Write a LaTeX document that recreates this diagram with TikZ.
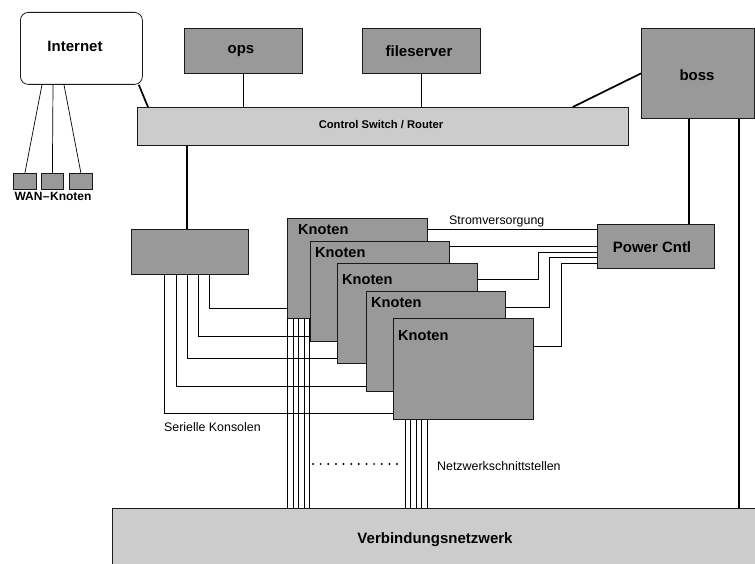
\documentclass[tikz,border=0pt]{standalone}
\usepackage{fontspec}
\setmainfont{Liberation Sans}
\usetikzlibrary{calc}
\definecolor{boxgray}{HTML}{999999}
\definecolor{lightgray}{HTML}{CCCCCC}
\definecolor{edge}{HTML}{1A1A1A}
\begin{document}
\begin{tikzpicture}[x=1pt,y=-1pt,
  gbox/.style={draw=edge,line width=0.8pt,fill=boxgray,inner sep=0pt,anchor=north west},
  lbox/.style={draw=edge,line width=0.8pt,fill=lightgray,inner sep=0pt,anchor=north west},
  wbox/.style={draw=edge,line width=0.8pt,fill=white,rounded corners=8pt,inner sep=0pt,anchor=north west},
  big/.style={font=\fontsize{15}{17}\selectfont\bfseries,inner sep=0pt},
  knot/.style={font=\fontsize{14.6}{17}\selectfont\bfseries,inner sep=0pt,anchor=west},
  mid/.style={font=\fontsize{11.2}{13}\selectfont\bfseries,inner sep=0pt},
  txt/.style={font=\fontsize{12.4}{14}\selectfont,inner sep=0pt},
  wire/.style={line width=0.7pt,draw=black},
  trunk/.style={line width=1.7pt,draw=black}]
\clip (0,0) rectangle (755,564);
\fill[white] (0,0) rectangle (755,564);

% upper level: internet, servers, switch
\node[wbox,minimum width=122pt,minimum height=72pt] (inet) at (20,12) {};
\node[big] (inettext) at (75,46) {Internet};
\node[gbox,minimum width=23pt,minimum height=16pt] (w1) at (13,173) {};
\node[gbox,minimum width=22pt,minimum height=16pt] (w2) at (41,173) {};
\node[gbox,minimum width=23pt,minimum height=16pt] (w3) at (69,173) {};
\node[mid,font=\fontsize{12}{14}\selectfont\bfseries] (wantext) at (53,196) {WAN\kern0.5pt–\kern0.5pt Knoten};

\node[gbox,minimum width=118pt,minimum height=45pt] (ops) at (184,28) {};
\node[big] (opstext) at (241,51) {ops};
\node[gbox,minimum width=118pt,minimum height=45pt] (fs) at (362,28) {};
\node[big] (fstext) at (419,51) {fileserver};
\node[gbox,minimum width=113pt,minimum height=90pt] (boss) at (641,28) {};
\node[big] (bosstext) at (697,75) {boss};
\node[lbox,minimum width=491pt,minimum height=38pt] (sw) at (137,107) {};
\node[mid] (swtext) at (381,125) {Control Switch / Router};

% console server and power controller
\node[gbox,minimum width=117pt,minimum height=45pt] (cb) at (131,229) {};
\node[gbox,minimum width=117pt,minimum height=44pt] (pc) at (597,224) {};
\node[big] (pctext) at (652,247) {Power Cntl};

% interconnect
\node[lbox,minimum width=660pt,minimum height=70pt] (vn) at (112,508) {};
\node[big] (vntext) at (435,540) {Verbindungsnetzwerk};

% internet links
\draw[wire] ([xshift=22pt]inet.south west) -- (w1.north);
\draw[wire] ([xshift=33pt]inet.south west) -- (w2.north);
\draw[wire] ([xshift=44pt]inet.south west) -- (w3.north);
\draw[trunk] ([xshift=-4pt]inet.south east) -- ([xshift=11pt]sw.north west);
\draw[trunk] (ops.south) -- (ops.south |- sw.north);
\draw[trunk] (fs.south) -- (fs.south |- sw.north);
\draw[trunk] ([xshift=-56pt]sw.north east) -- (boss.west);
\coordinate (cbtop) at ([xshift=56pt]cb.north west);
\draw[trunk] (cbtop |- sw.south) -- (cbtop);
\coordinate (bossa) at ([xshift=48pt]boss.south west);
\coordinate (bossb) at ([xshift=98pt]boss.south west);
\draw[trunk] (bossa) -- (bossa |- pc.north);
\draw[trunk] (bossb) -- (bossb |- vn.north);

% node stack
\node[gbox,minimum width=140pt,minimum height=100pt] (k1) at (287,218) {};
\node[knot] (k1text) at (298,230) {Knoten};
\node[gbox,minimum width=139pt,minimum height=100pt] (k2) at (310,241) {};
\node[knot] (k2text) at (315,253) {Knoten};
\node[gbox,minimum width=140pt,minimum height=100pt] (k3) at (337,263) {};
\node[knot] (k3text) at (342,280) {Knoten};
\node[gbox,minimum width=139pt,minimum height=100pt] (k4) at (366,291) {};
\node[knot] (k4text) at (371,303) {Knoten};
\node[gbox,minimum width=140pt,minimum height=101pt] (k5) at (393,318) {};
\node[knot] (k5text) at (398,336) {Knoten};

% serial console lines
\draw[wire] ([xshift=78pt]cb.south west) |- ([yshift=-90pt]k1.north west);
\draw[wire] ([xshift=67pt]cb.south west) |- ([yshift=-95pt]k2.north west);
\draw[wire] ([xshift=56pt]cb.south west) |- ([yshift=-95pt]k3.north west);
\draw[wire] ([xshift=45pt]cb.south west) |- ([yshift=-95pt]k4.north west);
\draw[wire] ([xshift=33pt]cb.south west) |- ([yshift=-95pt]k5.north west);
\node[txt,anchor=west] (serlabel) at (164,427) {Serielle Konsolen};

% power lines
\coordinate (p1) at ([yshift=-11pt]k1.north east);
\draw[wire] (p1) -- (p1 -| pc.west);
\coordinate (p2) at ([yshift=-5pt]k2.north east);
\draw[wire] (p2) -- (p2 -| pc.west);
\draw[wire] ([yshift=-16pt]k3.north east) -- ++(61,0) |- ([yshift=-28pt]pc.north west);
\draw[wire] ([yshift=-16pt]k4.north east) -- ++(44,0) |- ([yshift=-33pt]pc.north west);
\draw[wire] ([yshift=-28pt]k5.north east) -- ++(28,0) |- ([yshift=-39pt]pc.north west);
\node[txt,anchor=west] (strlabel) at (449,221) {Stromversorgung};

% network interfaces
\foreach \dx in {0,6,11,17,22} {
  \coordinate (na) at ([xshift=\dx pt]k1.south west);
  \draw[wire] (na) -- (na |- vn.north);
}
\foreach \dx in {12,17,23,28,34} {
  \coordinate (nb) at ([xshift=\dx pt]k5.south west);
  \draw[wire] (nb) -- (nb |- vn.north);
}
\foreach \i in {0,...,11}
  \fill ({313+\i*7.64},464) circle (1.1pt);
\node[txt,anchor=west] (netlabel) at (437,466) {Netzwerkschnittstellen};
\end{tikzpicture}
\end{document}
